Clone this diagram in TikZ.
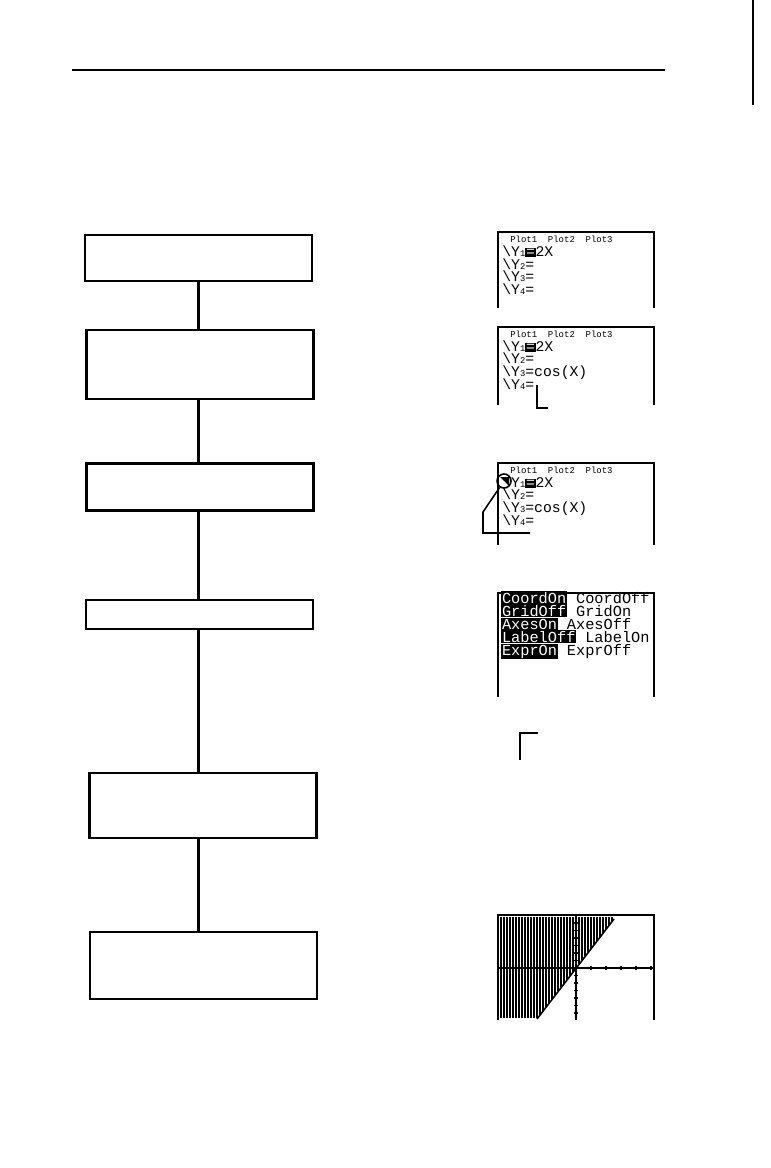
\documentclass[tikz,border=0pt]{standalone}
\usepackage{fontspec}
\newfontfamily\lcdfont{Liberation Mono}
\usepackage{tikz}
\usetikzlibrary{positioning}
\definecolor{lcdink}{RGB}{0,0,0}
\definecolor{paper}{RGB}{255,255,255}
\newcommand{\lcdhl}[1]{{\setlength{\fboxsep}{0.4pt}\colorbox{lcdink}{\textcolor{paper}{#1}}}}
\newcommand{\lcdsub}[1]{\raisebox{-0.1ex}{\fontsize{5}{5}\selectfont #1}}
\newcommand{\ymark}{\textbackslash}
\tikzset{
  %% ---- boxes ----
  stepbox/.style  = {rectangle, draw=lcdink, line width=1.3pt,
                     minimum width=4.54cm, minimum height=#1, inner sep=0pt},
  stepbox/.default = 0.92cm,
  %% ---- screens ----
  lcdline/.style  = {line width=0.6pt, color=lcdink},
  lcdrow/.style   = {anchor=west, inner sep=0pt, text height=5.2pt, text depth=0.6pt,
                     font=\lcdfont\fontsize{8.4}{8.4}\selectfont},
  lcdmenu/.style  = {lcdrow, font=\lcdfont\fontsize{8.7}{8.7}\selectfont},
  lcdtop/.style   = {anchor=west, inner sep=0pt, text height=3.4pt, text depth=0pt,
                     font=\lcdfont\fontsize{5.1}{5.1}\selectfont},
  shadeline/.style= {line width=0.6pt, color=lcdink},
  %% ---- connectors ----
  link/.style     = {line width=1.3pt, color=lcdink},
}
\begin{document}
\begin{tikzpicture}[x=0.02cm, y=-0.02cm]
\useasboundingbox (0,0) rectangle (770,1168);
\draw[line width=0.9pt] (72,70) -- (665,70);
\draw[line width=0.6pt] (753,0) -- (753,105);

%% ---- flow boxes ----
\node[stepbox=0.92cm]                                  (keyin)   at (198.5,258) {};
\node[stepbox=1.38cm, below=0.94cm of keyin, xshift=0.03cm]   (addcos)  {};
\node[stepbox=0.94cm, below=1.24cm of addcos]                 (shadeit) {};
\node[stepbox=0.58cm, below=1.74cm of shadeit, xshift=-0.01cm] (format) {};
\node[stepbox=1.30cm, below=2.84cm of format, xshift=0.07cm]  (window)  {};
\node[stepbox=1.34cm, below=1.84cm of window, xshift=0.01cm]  (graph)   {};
\draw[link] (keyin.south)             -- (keyin.south |- addcos.north);
\draw[link] (keyin.south |- addcos.south)  -- (keyin.south |- shadeit.north);
\draw[link] (keyin.south |- shadeit.south) -- (keyin.south |- format.north);
\draw[link] (keyin.south |- format.south)  -- (keyin.south |- window.north);
\draw[link] (keyin.south |- window.south)  -- (keyin.south |- graph.north);

%% ---- screen 1 ----
\draw[lcdline] (498,308) |- (654,232) -- (654,308);
\node[lcdtop] (sAp) at (510,240) {Plot1~ Plot2~ Plot3};
\node[lcdrow] (sA1) at (502,252) {\ymark Y\lcdsub{1}\lcdhl{=}2X};
\node[lcdrow] (sA2) at (502,265) {\ymark Y\lcdsub{2}=};
\node[lcdrow] (sA3) at (502,277) {\ymark Y\lcdsub{3}=};
\node[lcdrow] (sA4) at (502,290) {\ymark Y\lcdsub{4}=};

%% ---- screen 2 ----
\draw[lcdline] (498,405) |- (654,327) -- (654,405);
\node[lcdtop] (sBp) at (510,335) {Plot1~ Plot2~ Plot3};
\node[lcdrow] (sB1) at (502,347) {\ymark Y\lcdsub{1}\lcdhl{=}2X};
\node[lcdrow] (sB2) at (502,359) {\ymark Y\lcdsub{2}=};
\node[lcdrow] (sB3) at (502,372) {\ymark Y\lcdsub{3}=cos(X)};
\node[lcdrow] (sB4) at (502,385) {\ymark Y\lcdsub{4}=};
\coordinate (cursorB) at (537,385);
\draw[lcdline, line width=0.9pt] (cursorB) -- (537,408) -- (548,408);

%% ---- screen 3 ----
\draw[lcdline] (498,545) |- (654,463) -- (654,545);
\node[lcdtop] (sCp) at (510,471) {Plot1~ Plot2~ Plot3};
\node[lcdrow] (sC1) at (502,483) {\phantom{\ymark}Y\lcdsub{1}\lcdhl{=}2X};
\node[lcdrow] (sC2) at (502,495) {\ymark Y\lcdsub{2}=};
\node[lcdrow] (sC3) at (502,508) {\ymark Y\lcdsub{3}=cos(X)};
\node[lcdrow] (sC4) at (502,521) {\ymark Y\lcdsub{4}=};
\fill[lcdink] (500,477) -- (509,477) -- (509,486) -- cycle;
\node[circle, draw=lcdink, line width=0.9pt, minimum size=0.28cm, inner sep=0pt] (iconring) at (504,481) {};
\coordinate (calloutC) at (483,533);
\draw[lcdline, line width=0.9pt] (iconring) -- (483,512) -- (calloutC) -- (530,533);

%% ---- screen 4 ----
\draw[lcdline] (498,697) |- (654,593) -- (654,697);
\node[lcdmenu] (sD1) at (501,599) {\lcdhl{CoordOn} CoordOff};
\node[lcdmenu] (sD2) at (501,612) {\lcdhl{GridOff} GridOn};
\node[lcdmenu] (sD3) at (501,625) {\lcdhl{AxesOn} AxesOff};
\node[lcdmenu] (sD4) at (501,638) {\lcdhl{LabelOff} LabelOn};
\node[lcdmenu] (sD5) at (501,651) {\lcdhl{ExprOn} ExprOff};
\coordinate (cornerD) at (520,760);
\draw[lcdline, line width=0.9pt] (cornerD) -- (520,733) -- (538,733);

%% ---- screen 5 ----
\draw[lcdline] (498,1020) |- (654,915) -- (654,1020);
\foreach \sx in {501,504,...,612}{
  \pgfmathsetmacro{\sy}{min(1018, 968-1.293*(\sx-576))}
  \draw[shadeline] (\sx,917) -- (\sx,\sy);
}
\draw[lcdline, line width=0.9pt] (537,1019) -- (614,919);
\draw[lcdline] (498,968) -- (654,968);
\draw[lcdline] (576,915) -- (576,1020);
\foreach \tx in {501,516,...,651}
  \draw[lcdline] (\tx,966) -- (\tx,970);
\foreach \ty in {923,930.5,...,1014}
  \draw[lcdline] (574,\ty) -- (578,\ty);
\end{tikzpicture}
\end{document}
